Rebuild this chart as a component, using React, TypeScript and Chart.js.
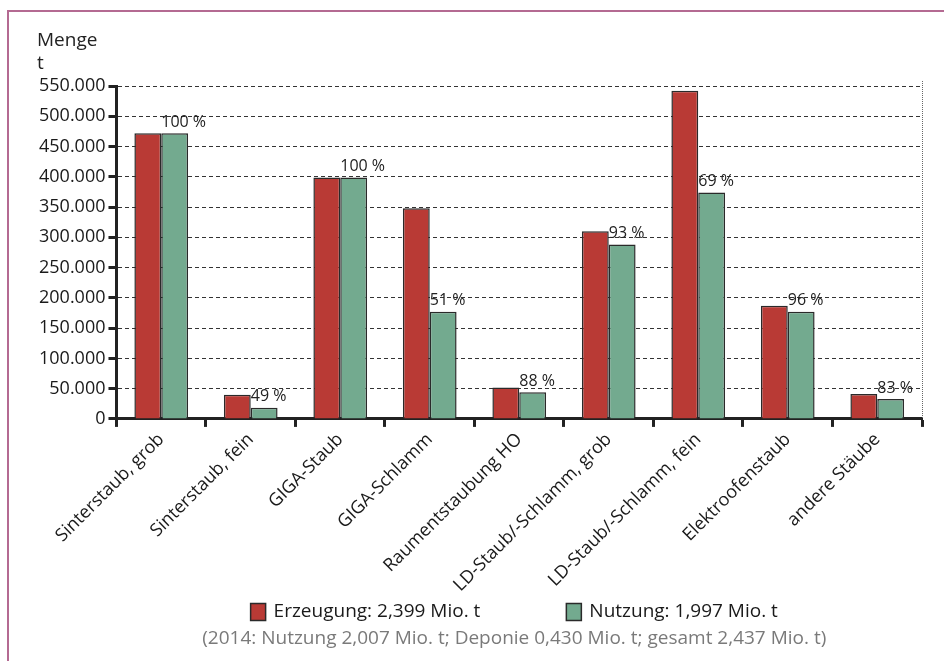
import React, { useEffect, useRef } from "react";
import { Chart, registerables } from "chart.js";

Chart.register(...registerables);

const categories = [
  "Sinterstaub, grob",
  "Sinterstaub, fein",
  "GIGA-Staub",
  "GIGA-Schlamm",
  "Raumentstaubung HO",
  "LD-Staub/-Schlamm, grob",
  "LD-Staub/-Schlamm, fein",
  "Elektroofenstaub",
  "andere Stäube",
];
const erzeugung = [472000, 40000, 399000, 348000, 52000, 310000, 542000, 187000, 41000];
const nutzung = [472000, 18500, 399000, 177000, 44000, 288000, 374000, 177000, 33000];
const percentLabels = ["100 %", "49 %", "100 %", "51 %", "88 %", "93 %", "69 %", "96 %", "83 %"];
const legendErzeugung = "Erzeugung: 2,399 Mio. t";
const legendNutzung = "Nutzung: 1,997 Mio. t";
const footnote = "(2014: Nutzung 2,007 Mio. t; Deponie 0,430 Mio. t; gesamt 2,437 Mio. t)";
const axisTitle = ["Menge", "t"];

const FONT = "'Open Sans', 'Noto Sans', sans-serif";

function fmt(v: number): string {
  const s = Math.round(v).toString();
  return s.replace(/\B(?=(\d{3})+(?!\d))/g, ".");
}

const extrasPlugin = {
  id: "extras",
  afterDatasetsDraw(chart: any) {
    const ctx = chart.ctx;
    const area = chart.chartArea;
    ctx.save();
    // dotted right border
    ctx.strokeStyle = "#666";
    ctx.lineWidth = 1;
    ctx.setLineDash([1, 1]);
    ctx.beginPath();
    ctx.moveTo(area.right + 0.5, area.top - 5);
    ctx.lineTo(area.right + 0.5, area.bottom);
    ctx.stroke();
    ctx.setLineDash([]);
    // percent labels
    const meta = chart.getDatasetMeta(1);
    ctx.font = `16px ${FONT}`;
    ctx.fillStyle = "#222";
    ctx.textAlign = "left";
    ctx.textBaseline = "bottom";
    meta.data.forEach((bar: any, i: number) => {
      const left = bar.x - bar.width / 2;
      ctx.fillText(percentLabels[i], left, bar.y - 3);
    });
    // axis title
    ctx.font = `19px ${FONT}`;
    ctx.textBaseline = "middle";
    ctx.fillText(axisTitle[0], 37, 41);
    ctx.fillText(axisTitle[1], 37, 64);

    // legend
    const ds = chart.data.datasets;
    ctx.font = `19px ${FONT}`;
    const boxW = 15;
    const boxH = 17;
    const gapText = 8;
    const gapItems = 86;
    const w0 = ctx.measureText(ds[0].label).width;
    const w1 = ctx.measureText(ds[1].label).width;
    const total = boxW + gapText + w0 + gapItems + boxW + gapText + w1;
    const cx = (area.left + area.right) / 2 - 5;
    let x = cx - total / 2;
    const ly = 612;
    [0, 1].forEach((k) => {
      ctx.fillStyle = ds[k].backgroundColor;
      ctx.fillRect(x, ly - boxH / 2, boxW, boxH);
      ctx.strokeStyle = "#2a2a2a";
      ctx.lineWidth = 1.5;
      ctx.strokeRect(x, ly - boxH / 2, boxW, boxH);
      ctx.fillStyle = "#1a1a1a";
      ctx.textAlign = "left";
      ctx.fillText(ds[k].label, x + boxW + gapText, ly);
      x += boxW + gapText + (k === 0 ? w0 : w1) + gapItems;
    });
    // footnote
    ctx.fillStyle = "#7a7a7a";
    ctx.textAlign = "center";
    ctx.fillText(footnote, cx, 639);
    ctx.restore();
  },
};

export default function App() {
  const ref = useRef<HTMLCanvasElement | null>(null);
  useEffect(() => {
    if (!ref.current) return;
    const chart = new Chart(ref.current, {
      type: "bar",
      data: {
        labels: categories,
        datasets: [
          {
            label: legendErzeugung,
            data: erzeugung,
            backgroundColor: "#b93a35",
            borderColor: "#2a2a2a",
            borderWidth: 1.5,
          },
          {
            label: legendNutzung,
            data: nutzung,
            backgroundColor: "#73aa8f",
            borderColor: "#2a2a2a",
            borderWidth: 1.5,
          },
        ],
      },
      options: {
        responsive: false,
        animation: false,
        devicePixelRatio: 1,
        layout: { padding: { top: 86, left: 36, right: 22, bottom: 63 } },
        datasets: {
          bar: { categoryPercentage: 0.6, barPercentage: 1.0 },
        },
        scales: {
          x: {
            offset: true,
            border: { display: true, color: "#222", width: 3 },
            grid: {
              offset: true,
              drawOnChartArea: false,
              drawTicks: true,
              tickLength: 8,
              tickWidth: 3,
              tickColor: "#222",
            },
            ticks: {
              minRotation: 45,
              maxRotation: 45,
              color: "#1a1a1a",
              font: { family: FONT, size: 18 },
              padding: 2,
            },
          },
          y: {
            min: 0,
            max: 550000,
            border: { display: true, color: "#222", width: 3, dash: [4, 3] },
            grid: {
              color: "#333",
              lineWidth: 1,
              tickLength: 8,
              tickWidth: 3,
              tickColor: "#222",
              tickBorderDash: [],
            },
            ticks: {
              stepSize: 50000,
              color: "#1a1a1a",
              font: { family: FONT, size: 18 },
              padding: 3,
              callback: (v: any) => fmt(Number(v)),
            },
          },
        },
        plugins: {
          legend: { display: false },
          tooltip: { enabled: false },
        },
      },
      plugins: [extrasPlugin],
    });
    return () => chart.destroy();
  }, []);
  return (
    <div style={{ position: "absolute", left: 0, top: 0, width: 944, height: 661, background: "#fff", overflow: "hidden" }}>
      <div
        style={{
          position: "absolute",
          left: 7,
          top: 10,
          width: 1000,
          height: 800,
          border: "2px solid #b46a92",
        }}
      />
      <canvas ref={ref} width={944} height={661} style={{ position: "absolute", left: 0, top: 0, display: "block" }} />
    </div>
  );
}
